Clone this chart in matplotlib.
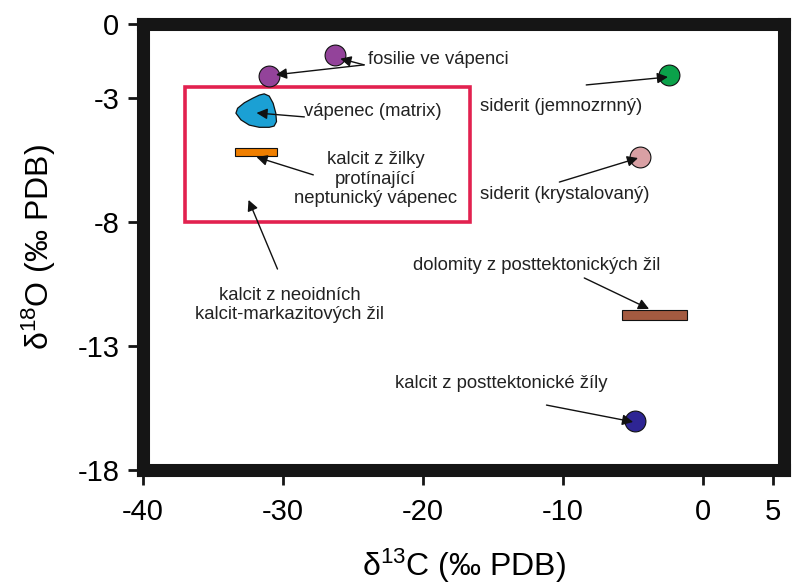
import numpy as np
import matplotlib
matplotlib.use("Agg")
import matplotlib.pyplot as plt
from matplotlib.patches import Polygon, Rectangle

plt.rcParams['font.family'] = ['Liberation Sans', 'DejaVu Sans']
plt.rcParams['axes.unicode_minus'] = False

# ---------------- data (d13C, d18O in permil PDB) ----------------
x_ticks = [-40, -30, -20, -10, 0, 5]
y_ticks = [0, -3, -8, -13, -18]

# single-point samples
fossil_c = [-26.3, -31.0]
fossil_o = [-1.25, -2.1]
siderit_fine = (-2.4, -2.06)
siderit_cryst = (-4.5, -5.37)
calcite_post = (-4.85, -16.02)

# limestone matrix field (outline)
matrix_c = [-31.34, -30.98, -30.70, -30.51, -30.46, -30.63, -30.98, -31.69,
            -32.41, -33.00, -33.36, -33.24, -32.76, -32.17, -31.69]
matrix_o = [-2.82, -2.91, -3.20, -3.60, -3.94, -4.12, -4.17, -4.17,
            -4.08, -3.87, -3.60, -3.40, -3.18, -3.00, -2.87]

# ranges drawn as bars: (c_min, c_max, o_min, o_max)
vein_calcite = (-33.45, -30.4, -5.33, -5.0)
dolomite = (-5.77, -1.14, -11.94, -11.54)

# highlighted box around neptunian limestone samples
box_c = (-37.0, -16.6)
box_o = (-8.0, -2.55)

# labels: text, position, alignment
labels = [
    ("fosilie ve vápenci", (-23.9, -1.45), 'left'),
    ("vápenec (matrix)", (-28.5, -3.55), 'left'),
    ("kalcit z žilky\nprotínající\nneptunický vápenec", (-23.4, -6.26), 'center'),
    ("kalcit z neoidních\nkalcit-markazitových žil", (-29.5, -11.34), 'center'),
    ("siderit (jemnozrnný)", (-15.95, -3.35), 'left'),
    ("siderit (krystalovaný)", (-15.95, -6.9), 'left'),
    ("dolomity z posttektonických žil", (-11.9, -9.73), 'center'),
    ("kalcit z posttektonické žíly", (-14.4, -14.49), 'center'),
]

# arrows: (tail, head)
arrows = [
    ((-24.2, -1.65), (-25.9, -1.4)),
    ((-24.2, -1.65), (-30.5, -2.05)),
    ((-28.47, -3.75), (-31.89, -3.59)),
    ((-27.83, -6.09), (-31.89, -5.37)),
    ((-30.39, -9.89), (-32.46, -7.1)),
    ((-8.33, -2.46), (-2.49, -2.14)),
    ((-10.25, -6.38), (-4.63, -5.41)),
    ((-8.47, -10.25), (-3.84, -11.5)),
    ((-11.17, -15.38), (-4.98, -16.06)),
]

# ---------------- figure ----------------
fig = plt.figure(figsize=(8.06, 5.85), dpi=100)
ax = fig.add_axes([0.1774, 0.1966, 0.7953, 0.7624])

frame = '#151515'
for s in ax.spines.values():
    s.set_linewidth(9.4)
    s.set_color(frame)

ax.set_xlim(-40, 5.8)
ax.set_ylim(-18, 0)
ax.set_xticks(x_ticks)
ax.set_xticklabels([str(v) for v in x_ticks])
ax.set_yticks(y_ticks)
ax.set_yticklabels([str(v) for v in y_ticks])
ax.tick_params(direction='out', length=11, width=2, color=frame, labelsize=21)
ax.tick_params(axis='x', pad=9)
ax.tick_params(axis='y', pad=6)

# red highlight box
ax.add_patch(Rectangle((box_c[0], box_o[0]), box_c[1] - box_c[0], box_o[1] - box_o[0],
                       fill=False, edgecolor='#E2214F', lw=2.6, zorder=2))

# matrix field
ax.add_patch(Polygon(np.column_stack([matrix_c, matrix_o]), closed=True,
                     facecolor='#1BA0D4', edgecolor='#111111', lw=0.9, joinstyle='round', zorder=3))

# bars
for (c0, c1, o0, o1), col in [(vein_calcite, '#F07F00'), (dolomite, '#A45A40')]:
    ax.add_patch(Rectangle((c0, o0), c1 - c0, o1 - o0, facecolor=col,
                           edgecolor='#111111', lw=0.8, zorder=3))

# points
ax.plot(fossil_c, fossil_o, 'o', ms=15, mfc='#93439A', mec='#111111', mew=0.8, zorder=4)
ax.plot(*siderit_fine, 'o', ms=15, mfc='#0BA24A', mec='#111111', mew=0.8, zorder=4)
ax.plot(*siderit_cryst, 'o', ms=15, mfc='#D9A0A4', mec='#111111', mew=0.8, zorder=4)
ax.plot(*calcite_post, 'o', ms=15, mfc='#2E2594', mec='#111111', mew=0.8, zorder=4)

for txt, pos, ha in labels:
    ax.text(pos[0], pos[1], txt, ha=ha, va='center', fontsize=13.3, color='#222222',
            linespacing=1.2, zorder=5)

for tail, head in arrows:
    ax.annotate('', xy=head, xytext=tail,
                arrowprops=dict(arrowstyle='-|>', color='#111111', lw=1.0,
                                mutation_scale=16, shrinkA=0, shrinkB=0), zorder=6)

ax.set_xlabel(r'$\mathregular{\delta^{13}}$C (‰ PDB)', fontsize=23, labelpad=15)
ax.set_ylabel(r'$\mathregular{\delta^{18}}$O (‰ PDB)', fontsize=23, labelpad=14)

fig.savefig('out.png', dpi=100)
